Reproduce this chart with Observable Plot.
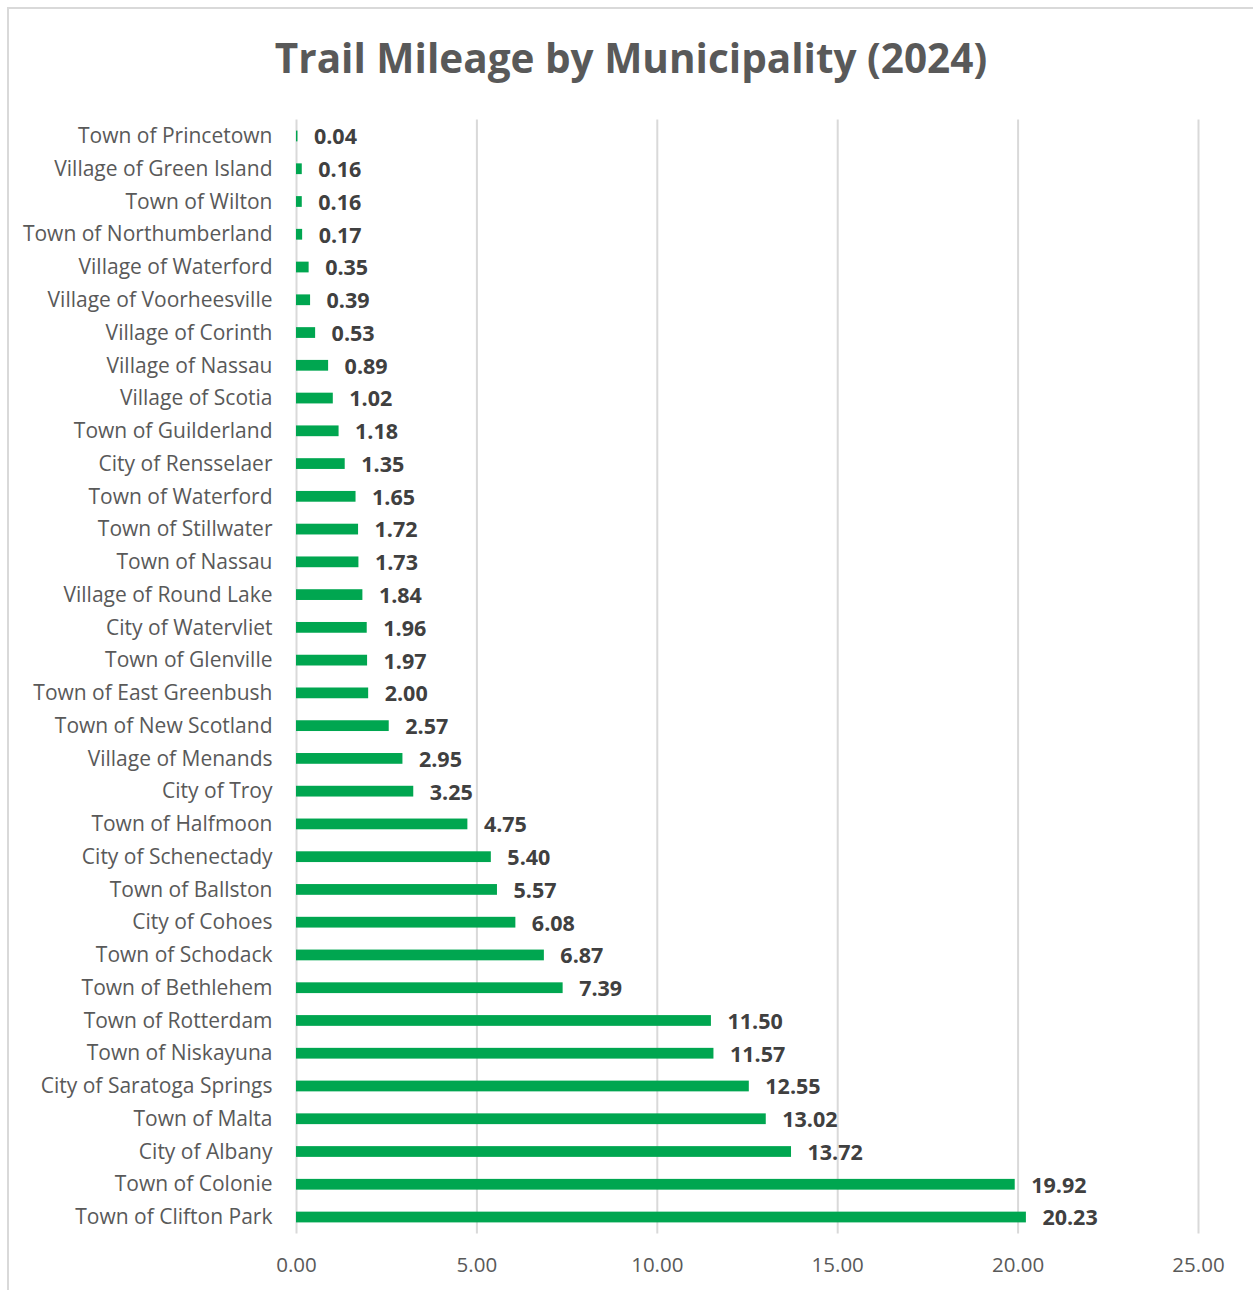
<!DOCTYPE html>
<html>
<head>
<meta charset="utf-8">
<script src="https://cdn.jsdelivr.net/npm/d3@7"></script>
<script src="https://cdn.jsdelivr.net/npm/@observablehq/plot@0.6"></script>
<style>
  html, body { margin: 0; padding: 0; background: #fff; }
  #frame { position: relative; width: 1253px; height: 1290px; overflow: hidden; }
  #border { position: absolute; left: 7px; top: 7px; width: 1300px; height: 1340px; border-left: 2px solid #d9d9d9; border-top: 2px solid #d9d9d9; box-sizing: border-box; }
  #title { position: absolute; left: 0; top: -2px; width: 1262px; height: 119px; text-align: center; font-family: "Open Sans", sans-serif; font-weight: bold; font-size: 40.5px; color: #595959; line-height: 119px; }
  #chart { position: absolute; left: 0; top: 100px; }
</style>
</head>
<body>
<div id="frame">
  <div id="border"></div>
  <div id="title">Trail Mileage by Municipality (2024)</div>
  <div id="chart"></div>
</div>
<script>
const municipalities = [
  "Town of Princetown", "Village of Green Island", "Town of Wilton", "Town of Northumberland",
  "Village of Waterford", "Village of Voorheesville", "Village of Corinth", "Village of Nassau",
  "Village of Scotia", "Town of Guilderland", "City of Rensselaer", "Town of Waterford",
  "Town of Stillwater", "Town of Nassau", "Village of Round Lake", "City of Watervliet",
  "Town of Glenville", "Town of East Greenbush", "Town of New Scotland", "Village of Menands",
  "City of Troy", "Town of Halfmoon", "City of Schenectady", "Town of Ballston",
  "City of Cohoes", "Town of Schodack", "Town of Bethlehem", "Town of Rotterdam",
  "Town of Niskayuna", "City of Saratoga Springs", "Town of Malta", "City of Albany",
  "Town of Colonie", "Town of Clifton Park"
];
const miles = [
  0.04, 0.16, 0.16, 0.17, 0.35, 0.39, 0.53, 0.89, 1.02, 1.18, 1.35, 1.65, 1.72, 1.73, 1.84, 1.96,
  1.97, 2.00, 2.57, 2.95, 3.25, 4.75, 5.40, 5.57, 6.08, 6.87, 7.39, 11.50, 11.57, 12.55, 13.02, 13.72,
  19.92, 20.23
];
const xTicks = [0, 5, 10, 15, 20, 25];

const data = municipalities.map((name, i) => ({name, value: miles[i]}));

const chart = Plot.plot({
  width: 1253,
  height: 1190,
  marginLeft: 296,
  marginRight: 55,
  marginTop: 19.6,
  marginBottom: 56.6,
  style: {fontFamily: "'Open Sans', sans-serif", background: "transparent"},
  x: {domain: [0, 25], ticks: xTicks, tickFormat: d => d.toFixed(2), label: null},
  y: {domain: municipalities, padding: 0, round: false, label: null},
  marks: [
    Plot.gridX(xTicks, {stroke: "#d9d9d9", strokeOpacity: 1, strokeWidth: 2}),
    Plot.barX(data, {y: "name", x: "value", fill: "#00a650", insetTop: 11, insetBottom: 11}),
    Plot.text(data, {y: "name", x: "value", text: d => d.value.toFixed(2), textAnchor: "start", dx: 16, dy: 1, fontWeight: "bold", fontSize: 21.5, fill: "#404040"}),
    Plot.axisX(xTicks, {tickSize: 0, tickPadding: 24, fontSize: 20.5, color: "#595959", label: null, tickFormat: d => d.toFixed(2)}),
    Plot.axisY({tickSize: 0, tickPadding: 24, fontSize: 21, color: "#595959", label: null})
  ]
});
document.getElementById("chart").appendChild(chart);
</script>
</body>
</html>
